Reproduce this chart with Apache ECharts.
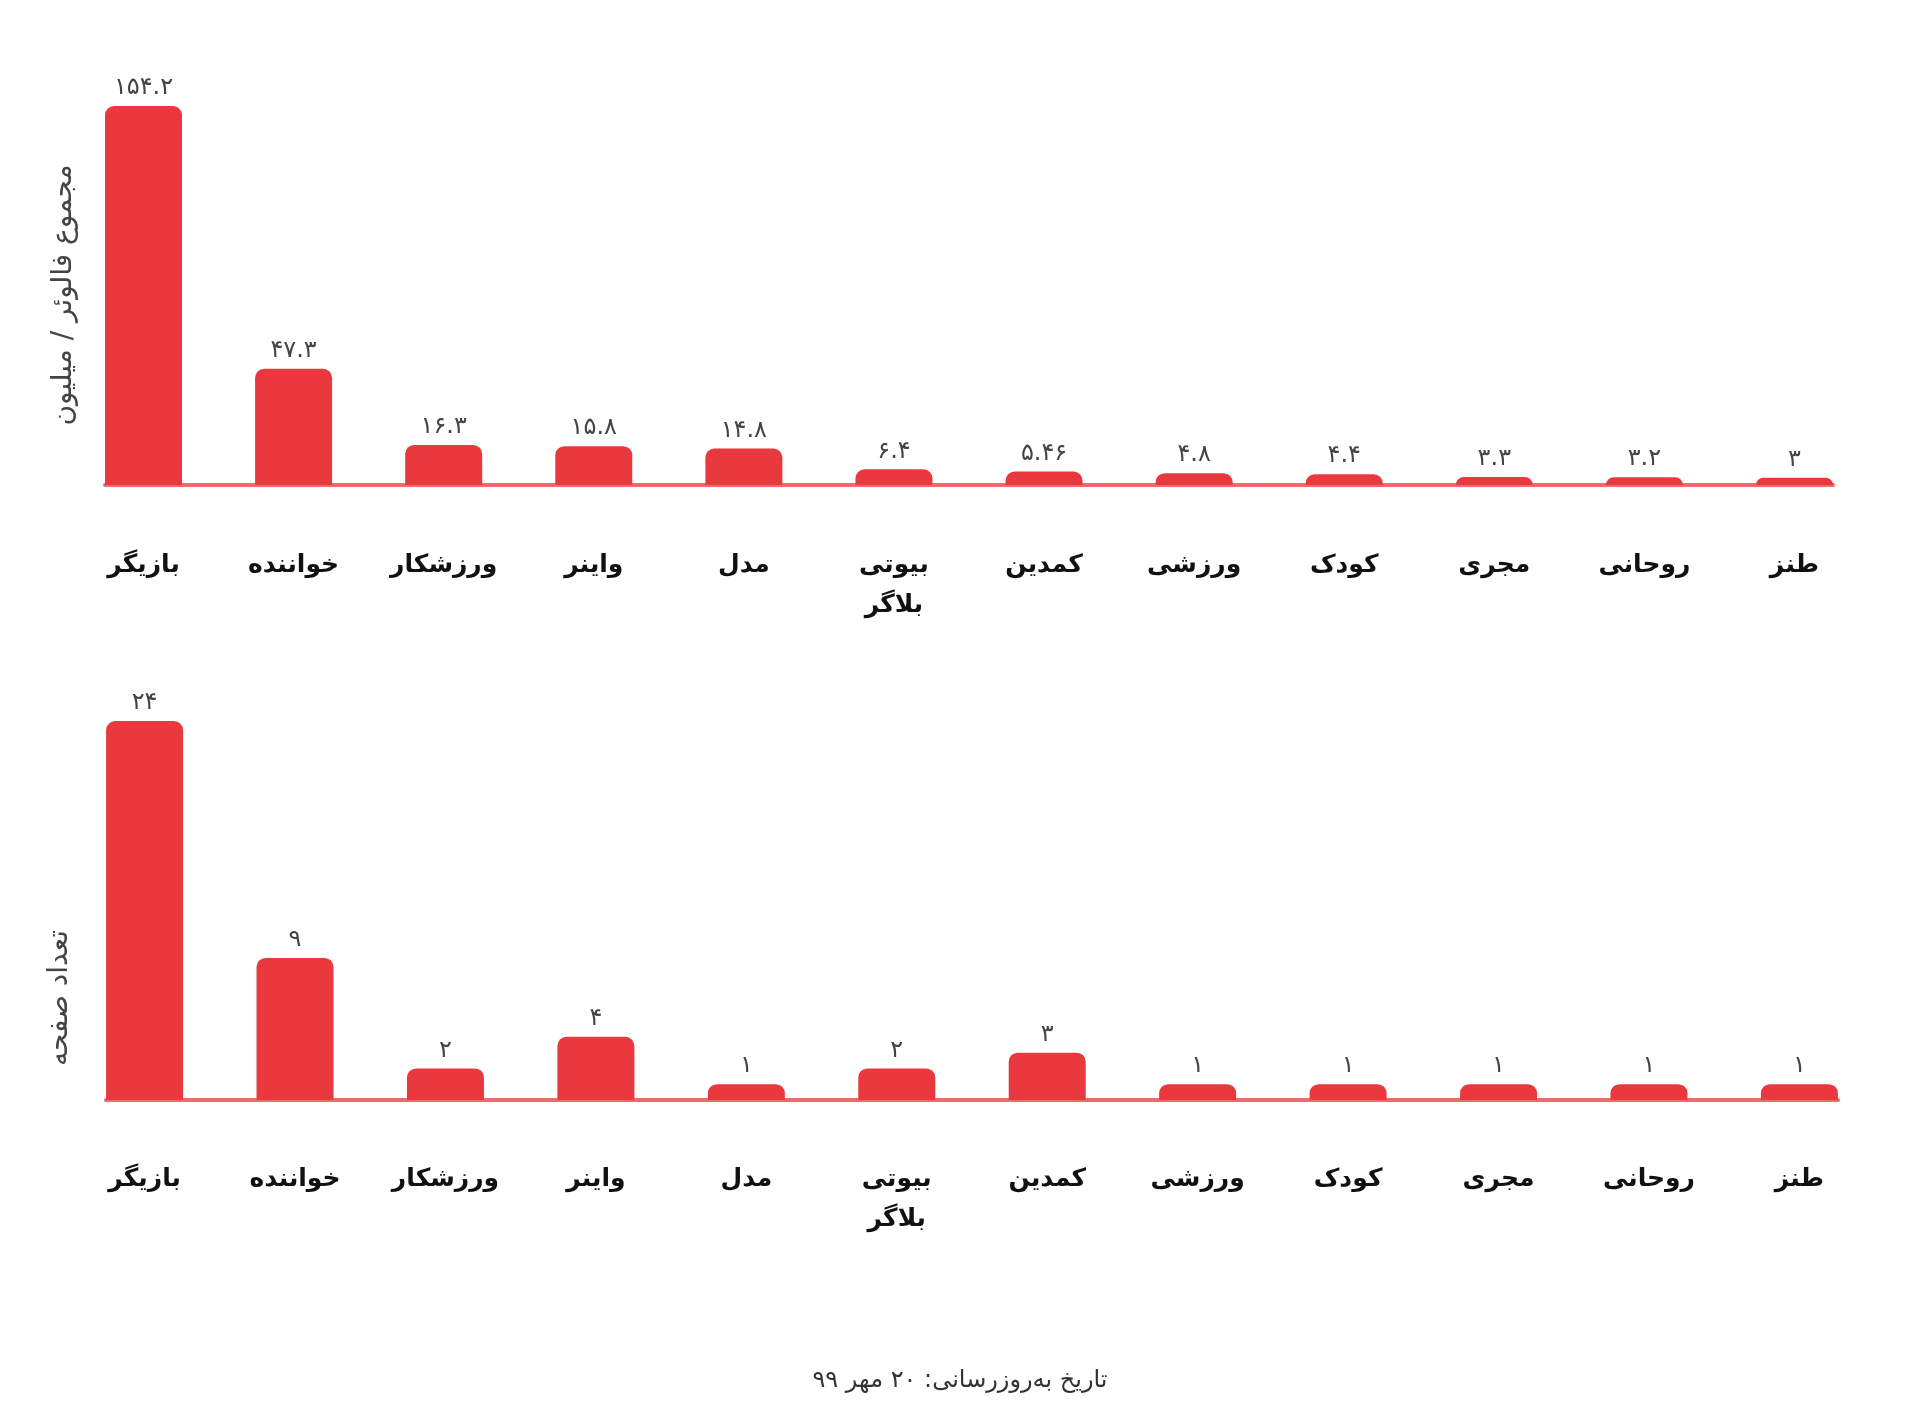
<!DOCTYPE html>
<html>
<head>
<meta charset="utf-8">
<script src="https://cdn.jsdelivr.net/npm/echarts@6/dist/echarts.min.js"></script>
<style>
  html, body { margin: 0; padding: 0; background: #fff; }
  #chart { width: 1920px; height: 1417px; }
</style>
</head>
<body>
<div id="chart"></div>
<script>
// دسته‌ها و مقادیر
const categories = ['بازیگر', 'خواننده', 'ورزشکار', 'واینر', 'مدل', 'بیوتی بلاگر', 'کمدین', 'ورزشی', 'کودک', 'مجری', 'روحانی', 'طنز'];
const followers = [154.2, 47.3, 16.3, 15.8, 14.8, 6.4, 5.46, 4.8, 4.4, 3.3, 3.2, 3];
const pages = [24, 9, 2, 4, 1, 2, 3, 1, 1, 1, 1, 1];

const FONT = "'DejaVu Sans', sans-serif";
const RED = '#e9393e';
const HALF = 0.2565; // نصف عرض ستون بر حسب فاصله دسته‌ها

// تبدیل ارقام به فارسی
const toFa = (v) => String(v).replace(/\d/g, (d) => '۰۱۲۳۴۵۶۷۸۹'[d]);

const makeX = (gridIndex, margin) => ({
  type: 'value',
  gridIndex: gridIndex,
  min: -HALF,
  max: categories.length - 1 + HALF,
  splitLine: { show: false },
  axisTick: { show: false },
  axisLine: { lineStyle: { color: '#ef6a6d', width: 4 } },
  axisLabel: {
    customValues: categories.map((_, i) => i),
    formatter: (v) => categories[Math.round(v)].replace(' ', '\n'),
    margin: margin,
    fontFamily: FONT,
    fontWeight: 'bold',
    fontSize: 25,
    lineHeight: 40,
    color: '#111',
  },
});

const makeY = (gridIndex, max) => ({
  type: 'value',
  gridIndex: gridIndex,
  min: 0,
  max: max,
  show: false,
});

const makeSeries = (idx, values) => ({
  type: 'bar',
  xAxisIndex: idx,
  yAxisIndex: idx,
  barWidth: 77,
  data: values.map((v, i) => [i, v]),
  itemStyle: { color: RED, borderRadius: [9, 9, 0, 0] },
  label: {
    show: true,
    position: 'top',
    distance: 6,
    formatter: (p) => toFa(p.value[1]),
    fontFamily: FONT,
    fontSize: 24,
    color: '#444',
  },
});

const option = {
  backgroundColor: '#fff',
  animation: false,
  title: {
    text: 'تاریخ به‌روزرسانی: ۲۰ مهر ۹۹',
    left: 'center',
    top: 1364,
    textStyle: { fontFamily: FONT, fontSize: 24, fontWeight: 'normal', color: '#333' },
  },
  grid: [
    { left: 105, right: 87, top: 106, height: 379 },
    { left: 106, right: 82, top: 721, height: 379 },
  ],
  xAxis: [makeX(0, 60), makeX(1, 59)],
  yAxis: [makeY(0, Math.max(...followers)), makeY(1, Math.max(...pages))],
  series: [makeSeries(0, followers), makeSeries(1, pages)],
  graphic: [
    {
      type: 'text', x: 64, y: 295, rotation: Math.PI / 2,
      style: { text: 'مجموع فالوئر / میلیون', fontFamily: FONT, fontSize: 28, fill: '#444', align: 'center', verticalAlign: 'middle' },
    },
    {
      type: 'text', x: 60, y: 998, rotation: Math.PI / 2,
      style: { text: 'تعداد صفحه', fontFamily: FONT, fontSize: 28, fill: '#444', align: 'center', verticalAlign: 'middle' },
    },
  ],
};

const chart = echarts.init(document.getElementById('chart'));
chart.setOption(option);
</script>
</body>
</html>
